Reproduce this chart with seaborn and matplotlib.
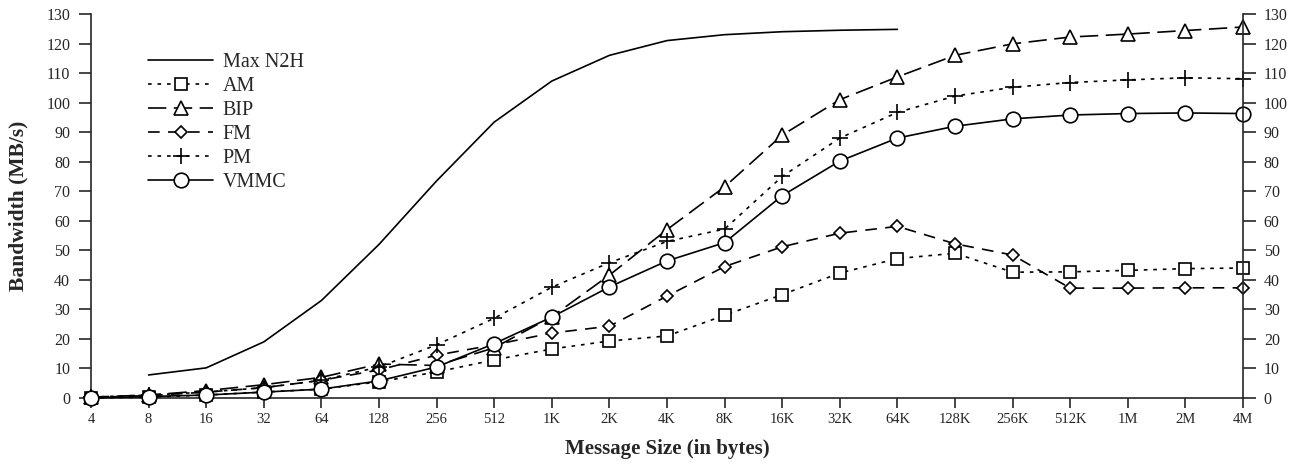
import numpy as np
import pandas as pd
import seaborn as sns
from matplotlib import pyplot as plt

# message sizes 4 bytes .. 4 MB
sizes = ["4", "8", "16", "32", "64", "128", "256", "512", "1K", "2K", "4K",
         "8K", "16K", "32K", "64K", "128K", "256K", "512K", "1M", "2M", "4M"]

# bandwidth values in MB/s
max_n2h = [7.8, 10.2, 19, 33, 52, 73.5, 93.4, 107.3, 116, 121, 123, 124, 124.5, 124.8]
am   = [0, 0.3, 1, 2, 3, 5.5, 8.8, 12.9, 16.6, 19.3, 21, 28, 35, 42.3, 47.2, 49, 42.6, 42.7, 43.2, 43.8, 44]
bip  = [0.3, 1, 2.5, 4.5, 7, 11.5, 11, 17, 27.5, 41.6, 57, 71.5, 89, 101, 108.7, 116, 119.9, 122.2, 123.2, 124.4, 125.6]
fm   = [0.2, 0.8, 2, 3.5, 6, 9.5, 14.5, 18, 22, 24.3, 34.5, 44.5, 51.2, 55.8, 58.1, 52.2, 48.4, 37.2, 37.2, 37.3, 37.3]
pm   = [0.3, 1, 2, 3.5, 6, 10.5, 18, 27, 37.5, 45.8, 53, 57.2, 75, 88, 96.7, 102.2, 105.2, 106.8, 107.7, 108.4, 108.1]
vmmc = [0, 0.5, 1, 2, 3, 5.8, 10.5, 18.4, 27.4, 37.6, 46.4, 52.6, 68.5, 80.2, 88, 92, 94.5, 95.8, 96.3, 96.5, 96.3]

sns.set_style("ticks")
plt.rcParams["font.family"] = ["Liberation Serif", "DejaVu Serif"]

fig, ax = plt.subplots(figsize=(12.95, 4.69), dpi=100)
fig.subplots_adjust(left=91 / 1295, right=1243 / 1295, top=1 - 14 / 469, bottom=1 - 398 / 469)

idx = np.arange(len(sizes))

series = [
    ("Max N2H", max_n2h, None, "-", 10),
    ("AM", am, "s", (0, (2.2, 3.5)), 9),
    ("BIP", bip, "^", (0, (11, 4.5)), 9.5),
    ("FM", fm, "D", (0, (7, 5)), 6.5),
    ("PM", pm, "+", (0, (2.2, 3.5)), 11),
    ("VMMC", vmmc, "o", "-", 10.5),
]

for name, vals, mk, ls, ms in series:
    # Max N2H starts at 8 bytes
    xs = idx[1:1 + len(vals)] if name == "Max N2H" else idx[:len(vals)]
    df = pd.DataFrame({"x": xs, "bw": vals})
    kw = dict(marker=mk, markersize=ms, markerfacecolor="white",
              markeredgecolor="black", markeredgewidth=1.2) if mk else {}
    sns.lineplot(data=df, x="x", y="bw", ax=ax, color="black", linewidth=1.2,
                 linestyle=ls, label=name, clip_on=False, zorder=3, **kw)

ax.set_xlim(0, len(sizes) - 1)
ax.set_ylim(0, 130)
ax.set_xticks(idx)
ax.set_xticklabels(sizes)
ax.set_yticks(np.arange(0, 131, 10))
ax.tick_params(axis="x", direction="out", length=7, width=1.2, labelsize=10.5, pad=4)
ax.tick_params(axis="y", direction="out", length=9, width=1.2, labelsize=11.5, pad=6)
ax.set_xlabel("Message Size (in bytes)", fontsize=15, fontweight="bold", labelpad=9)
ax.set_ylabel("Bandwidth (MB/s)", fontsize=15.5, fontweight="bold", labelpad=13)

ax2 = ax.twinx()
ax2.set_ylim(0, 130)
ax2.set_yticks(np.arange(0, 131, 10))
ax2.tick_params(direction="out", length=9, width=1.2, labelsize=11.5, pad=6)

for a in (ax, ax2):
    a.spines["top"].set_visible(False)
    for s in ("left", "right", "bottom"):
        a.spines[s].set_linewidth(1.2)
ax.spines["right"].set_visible(False)
ax2.spines["left"].set_visible(False)
ax2.spines["bottom"].set_visible(False)

leg = ax.legend(loc="upper left", bbox_to_anchor=(0.034, 0.945), frameon=False,
                fontsize=14.5, handlelength=3.2, handletextpad=0.5, labelspacing=0.24)

fig.savefig("out.png", dpi=100)
